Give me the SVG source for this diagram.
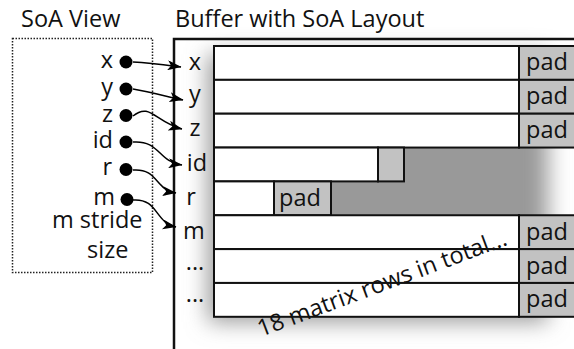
<svg xmlns="http://www.w3.org/2000/svg" width="574" height="349" viewBox="0 0 574 349">
  <defs>
    <filter id="soft" x="-30%" y="-30%" width="160%" height="160%">
      <feGaussianBlur stdDeviation="11"/>
    </filter>
    <marker id="head" viewBox="0 0 14 10" refX="13.5" refY="5" markerWidth="14" markerHeight="10" markerUnits="userSpaceOnUse" orient="auto">
      <path d="M0,0 L14,5 L0,10 L3.5,5 Z" fill="#000"/>
    </marker>
  </defs>
  <style>
    text { font-family: "Open Sans", "Noto Sans", "DejaVu Sans", sans-serif; font-size: 23.5px; fill: #111; }
    .row { fill: #fff; stroke: #111; stroke-width: 2; }
    .pad { fill: #c2c2c2; stroke: #111; stroke-width: 2; }
    .dot { fill: #000; }
    .wire { fill: none; stroke: #000; stroke-width: 1.5; marker-end: url(#head); }
    .mid { text-anchor: middle; }
    .end { text-anchor: end; }
  </style>

  <rect width="574" height="349" fill="#fff"/>

  <!-- titles -->
  <text x="21" y="27">SoA View</text>
  <text x="175" y="27">Buffer with SoA Layout</text>

  <!-- view box -->
  <g id="view">
    <rect x="12.5" y="38.5" width="140" height="234" fill="none" stroke="#222" stroke-width="1.5" stroke-dasharray="1.5 1.5"/>
    <text class="end" x="113" y="68">x</text>
    <text class="end" x="113" y="95">y</text>
    <text class="end" x="113" y="122">z</text>
    <text class="end" x="113" y="148">id</text>
    <text class="end" x="112" y="175">r</text>
    <text class="end" x="115" y="205">m</text>
    <text x="52" y="228">m stride</text>
    <text x="87" y="258">size</text>
    <circle class="dot" cx="126" cy="62" r="6.5"/>
    <circle class="dot" cx="126" cy="89" r="6.5"/>
    <circle class="dot" cx="126" cy="115.5" r="6.5"/>
    <circle class="dot" cx="126" cy="142" r="6.5"/>
    <circle class="dot" cx="126" cy="169.5" r="6.5"/>
    <circle class="dot" cx="127" cy="199.5" r="6.5"/>
  </g>

  <!-- buffer -->
  <g id="buffer">
    <rect x="208" y="54" width="340" height="268" fill="#999" filter="url(#soft)"/>
    <path d="M174,349 V39 H574" fill="none" stroke="#111" stroke-width="2.5"/>

    <g id="row-x">
      <rect class="row" x="214" y="46" width="305" height="33.85"/>
      <rect class="pad" x="519" y="46" width="60" height="33.85"/>
      <text x="526" y="70">pad</text>
    </g>
    <g id="row-y">
      <rect class="row" x="214" y="79.85" width="305" height="33.85"/>
      <rect class="pad" x="519" y="79.85" width="60" height="33.85"/>
      <text x="526" y="104">pad</text>
    </g>
    <g id="row-z">
      <rect class="row" x="214" y="113.7" width="305" height="33.85"/>
      <rect class="pad" x="519" y="113.7" width="60" height="33.85"/>
      <text x="526" y="138">pad</text>
    </g>
    <g id="row-id">
      <rect class="row" x="214" y="147.55" width="164" height="33.85"/>
      <rect class="pad" x="378" y="147.55" width="26" height="33.85"/>
    </g>
    <g id="row-r">
      <rect class="row" x="214" y="181.4" width="60" height="33.85"/>
      <rect class="pad" x="274" y="181.4" width="57" height="33.85"/>
      <text x="279" y="205.5">pad</text>
    </g>
    <g id="row-m">
      <rect class="row" x="214" y="215.25" width="305" height="33.85"/>
      <rect class="pad" x="519" y="215.25" width="60" height="33.85"/>
      <text x="526" y="239.5">pad</text>
    </g>
    <g id="row-more1">
      <rect class="row" x="214" y="249.1" width="305" height="33.85"/>
      <rect class="pad" x="519" y="249.1" width="60" height="33.85"/>
      <text x="526" y="273.5">pad</text>
    </g>
    <g id="row-more2">
      <rect class="row" x="214" y="282.95" width="305" height="33.85"/>
      <rect class="pad" x="519" y="282.95" width="60" height="33.85"/>
      <text x="526" y="307">pad</text>
    </g>

    <text class="mid" x="195" y="70">x</text>
    <text class="mid" x="195" y="102">y</text>
    <text class="mid" x="195" y="136">z</text>
    <text class="mid" x="197" y="171">id</text>
    <text class="mid" x="191" y="205">r</text>
    <text class="mid" x="194" y="239">m</text>
    <text class="mid" x="195" y="270">...</text>
    <text class="mid" x="195" y="302">...</text>

    <text transform="translate(261,337) rotate(-20.5)">18 matrix rows in total...</text>
  </g>

  <!-- pointers from view fields to buffer rows -->
  <g id="connectors">
    <path class="wire" d="M133,62 C150,63 165,65 181,67"/>
    <path class="wire" d="M133,89 C150,92 165,96 183,100"/>
    <path class="wire" d="M133,116 C150,102 155,122 182,129"/>
    <path class="wire" d="M133,142 C160,140 158,162 182,165"/>
    <path class="wire" d="M133,170 C158,168 155,190 176,193"/>
    <path class="wire" d="M133,200 C158,198 155,223 176,227"/>
  </g>
</svg>
